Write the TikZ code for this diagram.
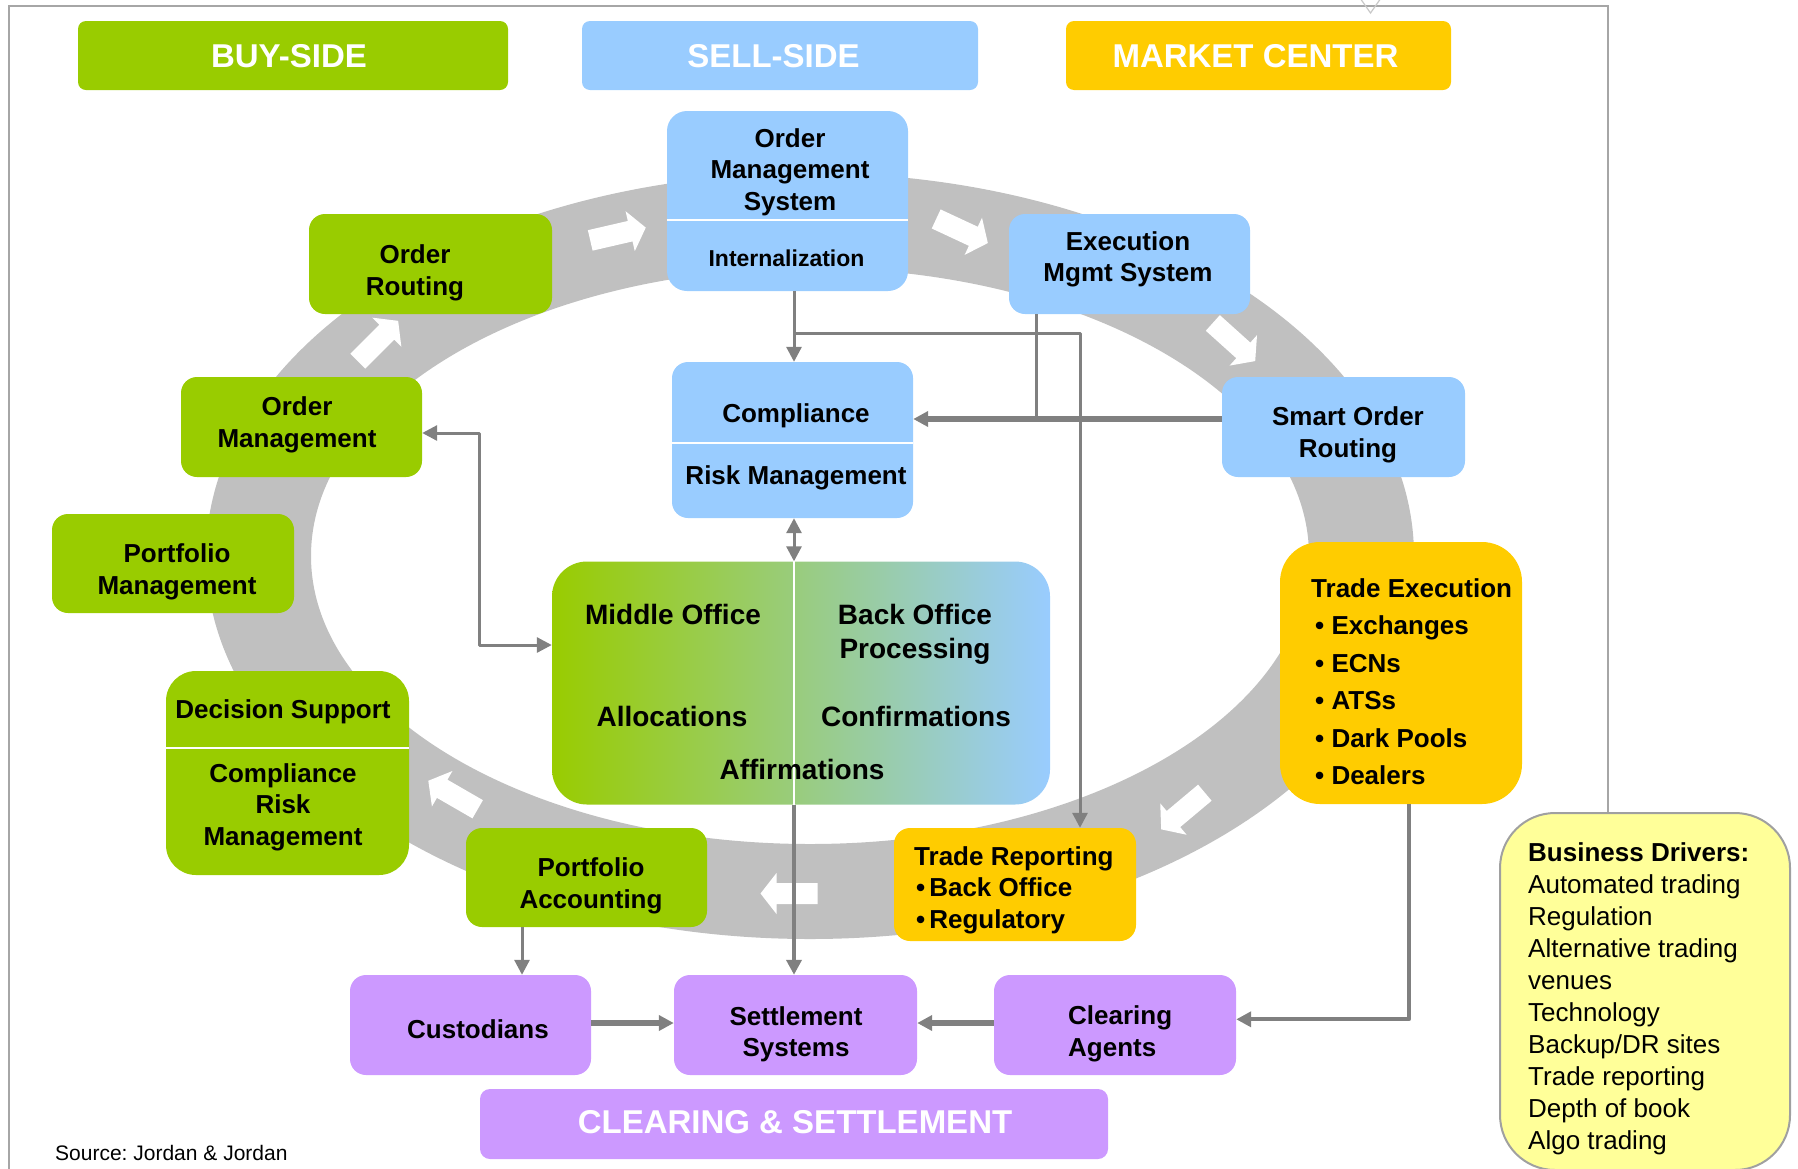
\documentclass[tikz,border=0pt]{standalone}
\usepackage{fontspec}
\setmainfont{Liberation Sans}
\usetikzlibrary{arrows.meta,calc}
\frenchspacing
\definecolor{cgreen}{RGB}{153,204,0}
\definecolor{cblue}{RGB}{153,204,255}
\definecolor{cyellow}{RGB}{255,204,0}
\definecolor{cpurple}{RGB}{204,153,255}
\definecolor{cring}{RGB}{192,192,192}
\definecolor{cline}{RGB}{128,128,128}
\definecolor{cdrv}{RGB}{255,255,153}
\definecolor{cdrvline}{RGB}{160,160,160}
\definecolor{cframe}{RGB}{166,166,166}
\definecolor{cvmark}{RGB}{200,200,200}
\definecolor{mleft}{RGB}{153,204,0}
\definecolor{mmid}{RGB}{153,204,175}
\definecolor{mright}{RGB}{153,204,255}
\tikzset{
  myTip/.tip={Triangle[length=15pt,width=15pt]},
  box/.style={rectangle, rounded corners=16pt, inner sep=0pt, minimum width=242pt, minimum height=100pt},
  ttl/.style={rectangle, rounded corners=8pt, inner sep=0pt, minimum height=69pt},
  tx/.style={inner sep=0pt, anchor=north, align=center, font=\bfseries\fontsize{26}{31.5}\selectfont},
  txl/.style={tx, anchor=north west, align=left},
  ttltx/.style={inner sep=0pt, anchor=north, text=white, font=\bfseries\fontsize{33}{40}\selectfont},
  conn/.style={draw=cline, line width=3pt, line join=round, arrows={-myTip}},
  conn2/.style={conn, arrows={myTip-myTip}},
  connthick/.style={conn, line width=5.5pt},
  plainline/.style={draw=cline, line width=3pt},
  divider/.style={draw=white, line width=2pt},
  ringarrow/.pic={\fill[white] (-28.5,-10.5) -- (12.5,-10.5) -- (12.5,-20.5) -- (28.5,0) -- (12.5,20.5) -- (12.5,10.5) -- (-28.5,10.5) -- cycle;}
}
\begin{document}
\begin{tikzpicture}[x=1pt,y=1pt]
\useasboundingbox (0,0) rectangle (1798,-1168);
\clip (0,0) rectangle (1798,-1168);
% frame
\draw[cframe, line width=1.5pt] (9,-1180) -- (9,-6) -- (1608,-6) -- (1608,-1180);
\draw[cvmark, line width=1.2pt] (1360,2) -- (1370.5,-13) -- (1381,2);
% ring
\fill[cring, even odd rule] (810,-556) ellipse[x radius=604pt, y radius=383pt]
                            (810,-556) ellipse[x radius=499pt, y radius=288pt];
% ring arrows
\pic[rotate=13] at (618,-234) {ringarrow};
\pic[rotate=-25] at (962,-231) {ringarrow};
\pic[rotate=-42] at (1234,-342) {ringarrow};
\pic[rotate=220] at (1183,-811) {ringarrow};
\pic[rotate=180] at (789,-893.5) {ringarrow};
\pic[rotate=150] at (453,-795) {ringarrow};
\pic[rotate=45] at (378,-341) {ringarrow};

% titles
\node[ttl, fill=cgreen, minimum width=430pt] (buy) at (293,-55.5) {};
\node[ttl, fill=cblue, minimum width=396pt] (sell) at (780,-55.5) {};
\node[ttl, fill=cyellow, minimum width=385pt] (market) at (1258.5,-55.5) {};
\node[ttltx] (buyt) at (289,-44.5) {BUY-SIDE};
\node[ttltx] (sellt) at (773.5,-44.5) {SELL-SIDE};
\node[ttltx] (markett) at (1255.5,-44.5) {MARKET CENTER};

% boxes
\node[box, fill=cblue, rounded corners=20pt, minimum width=241pt, minimum height=180pt] (oms) at (787.5,-201) {};
\draw[divider] ($(oms.north west)+(0,-109)$) -- ($(oms.north east)+(0,-109)$);
\node[tx] (omst) at (790,-128.1) {Order\\Management\\System};
\node[tx, font=\bfseries\fontsize{23}{28}\selectfont] (intt) at (786.5,-249.8) {Internalization};

\node[box, fill=cgreen, minimum width=243pt] (ordrout) at (430.5,-264) {};
\node[tx] (ordroutt) at (415,-244.8) {Order\\Routing};

\node[box, fill=cblue, minimum width=241pt] (ems) at (1129.5,-264) {};
\node[tx] (emst) at (1128,-231.1) {Execution\\Mgmt System};

\node[box, fill=cgreen, minimum width=241pt] (ordmgmt) at (301.5,-427) {};
\node[tx] (ordmgmtt) at (297,-396.8) {Order\\Management};

\node[box, fill=cblue, minimum width=241pt, minimum height=156pt] (compl) at (792.5,-440) {};
\draw[divider] ($(compl.north west)+(0,-81)$) -- ($(compl.north east)+(0,-81)$);
\node[tx] (complt) at (796,-403.7) {Compliance};
\node[tx] (riskt) at (796,-465.1) {Risk Management};

\node[box, fill=cblue, minimum width=243pt] (sor) at (1343.5,-427) {};
\node[tx, font=\bfseries\fontsize{26}{32.5}\selectfont] (sort) at (1348,-406.1) {Smart Order\\Routing};

\node[box, fill=cgreen, minimum width=242pt, minimum height=99pt] (pfmgmt) at (173,-563.5) {};
\node[tx, font=\bfseries\fontsize{26}{32}\selectfont] (pfmgmtt) at (177,-543.5) {Portfolio\\Management};

\node[box, rounded corners=35pt, minimum width=498pt, minimum height=243pt,
      left color=mleft, middle color=mmid, right color=mright] (mid) at (801,-683) {};
\coordinate (vx) at (794,0);
\draw[white, line width=1.5pt] (mid.north -| vx) -- (mid.south -| vx);
\node[tx, font=\bfseries\fontsize{28}{33.5}\selectfont] (midt) at (673,-604.4) {Middle Office};
\node[tx, font=\bfseries\fontsize{28}{33.5}\selectfont] (backt) at (915,-604.4) {Back Office\\Processing};
\node[tx, font=\bfseries\fontsize{28}{33.5}\selectfont] (alloct) at (672,-705.9) {Allocations};
\node[tx, font=\bfseries\fontsize{28}{33.5}\selectfont] (conft) at (916,-705.9) {Confirmations};
\node[tx, font=\bfseries\fontsize{28}{33.5}\selectfont] (afft) at (802,-759.4) {Affirmations};

\node[box, fill=cyellow, rounded corners=40pt, minimum width=242pt, minimum height=262pt] (tex) at (1401,-673) {};
\node[txl, font=\bfseries\fontsize{26}{37.5}\selectfont] (text) at (1311,-578.1)
  {Trade Execution\\\hspace*{4pt}• Exchanges\\\hspace*{4pt}• ECNs\\\hspace*{4pt}• ATSs\\\hspace*{4pt}• Dark Pools\\\hspace*{4pt}• Dealers};

\node[box, fill=cgreen, rounded corners=30pt, minimum width=243pt, minimum height=204pt] (dss) at (287.5,-773) {};
\draw[divider] ($(dss.north west)+(0,-77)$) -- ($(dss.north east)+(0,-77)$);
\node[tx] (dsst) at (283,-699.5) {Decision Support};
\node[tx] (dsst2) at (283,-763.1) {Compliance\\Risk\\Management};

\node[box, fill=cgreen, minimum width=241pt, minimum height=99pt] (pfacc) at (586.5,-877.5) {};
\node[tx, font=\bfseries\fontsize{26}{32.5}\selectfont] (pfacct) at (591,-857.1) {Portfolio\\Accounting};

\node[box, fill=cyellow, minimum width=242pt, minimum height=113pt] (trep) at (1015,-884.5) {};
\node[txl] (trept) at (914,-846.1) {Trade Reporting\\\hspace*{2pt}•\hspace{4pt}Back Office\\\hspace*{2pt}•\hspace{4pt}Regulatory};

\node[box, fill=cpurple, minimum width=241pt] (cust) at (470.5,-1025) {};
\node[tx] (custt) at (478,-1019.1) {Custodians};
\node[box, fill=cpurple, minimum width=243pt] (settle) at (795.5,-1025) {};
\node[tx] (settlet) at (796,-1006.1) {Settlement\\Systems};
\node[box, fill=cpurple, minimum width=242pt] (clear) at (1115,-1025) {};
\node[txl] (cleart) at (1068,-1005.9) {Clearing\\Agents};

\node[ttl, fill=cpurple, rounded corners=10pt, minimum width=628pt, minimum height=70pt] (csbar) at (794,-1124) {};
\node[ttltx] (csbart) at (795,-1110.5) {CLEARING \& SETTLEMENT};

\node[box, fill=cdrv, draw=cdrvline, line width=2pt, rounded corners=55pt, minimum width=290pt, minimum height=357pt] (drivers) at (1645,-991.5) {};
\node[inner sep=0pt, anchor=north west, align=left, font=\fontsize{26}{32}\selectfont] (drivt) at (1528,-842.1)
  {\textbf{Business Drivers:}\\Automated trading\\Regulation\\Alternative trading\\venues\\Technology\\Backup/DR sites\\Trade reporting\\Depth of book\\Algo trading};

\node[inner sep=0pt, anchor=north west, font=\fontsize{21}{25}\selectfont] (src) at (55,-1145.5) {Source: Jordan \& Jordan};

% connectors
\draw[conn] (oms.south -| vx) -- (compl.north -| vx);
\coordinate (br1) at (794,-333);
\coordinate (br2) at (1080,-333);
\draw[conn] (br1) -- (br2) -- (trep.north -| br2);
\coordinate (sory) at (0,-419);
\coordinate (emsx) at (1036.5,0);
\draw[plainline] (ems.south -| emsx) -- (emsx |- sory);
\draw[connthick] (sor.west |- sory) -- (compl.east |- sory);
\draw[conn2] (compl.south -| vx) -- (mid.north -| vx);
\coordinate (oml) at (479,-433);
\coordinate (omb) at (479,-645);
\draw[conn2] (ordmgmt.east |- oml) -- (oml) -- (omb) -- (mid.west |- omb);
\draw[conn, line width=4pt] (mid.south -| vx) -- (settle.north -| vx);
\coordinate (pcx) at (522,0);
\draw[conn] (pfacc.south -| pcx) -- (cust.north -| pcx);
\coordinate (csy) at (0,-1023);
\draw[connthick] (cust.east |- csy) -- (settle.west |- csy);
\draw[connthick] (clear.west |- csy) -- (settle.east |- csy);
\coordinate (tcx) at (1409,-1019.3);
\draw[conn, line width=4pt] (tex.south -| tcx) -- (tcx) -- (clear.east |- tcx);
\end{tikzpicture}
\end{document}
